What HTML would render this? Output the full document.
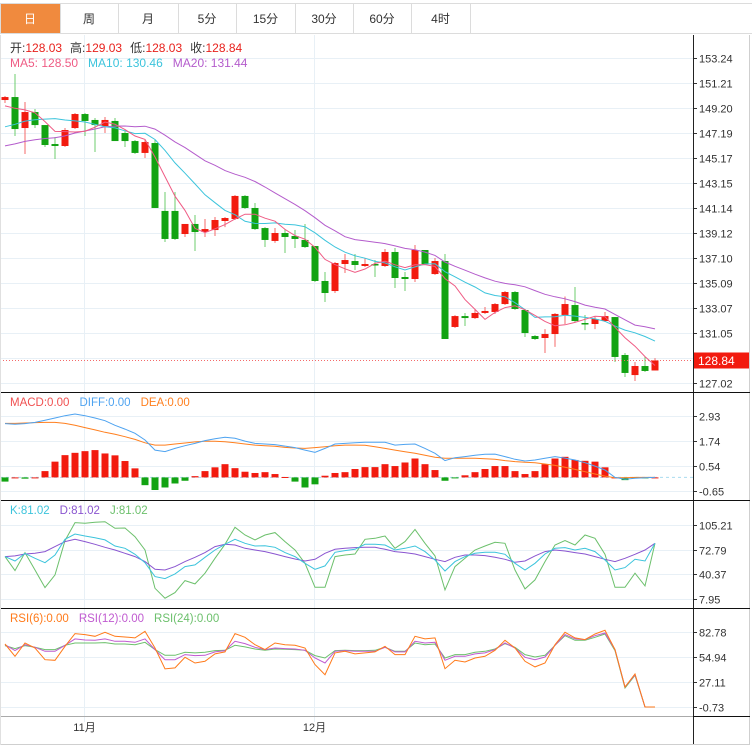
<!DOCTYPE html>
<html><head><meta charset="utf-8">
<style>
body{margin:0;background:#fff;width:755px;height:748px;overflow:hidden;font-family:"Liberation Sans","Noto Sans CJK SC",sans-serif;}
svg text{font-family:"Liberation Sans","Noto Sans CJK SC",sans-serif;}
</style></head>
<body>
<svg id="chart" width="755" height="748" viewBox="0 0 755 748" xmlns="http://www.w3.org/2000/svg">
<g id="tabs"></g>
<g id="grid"></g>
<g id="marks"></g>
<g id="frame"></g>
<g id="legend">
<text x="10" y="52" font-size="12"><tspan fill="#333">开:</tspan><tspan fill="#e8211c">128.03</tspan><tspan fill="#333" dx="8">高:</tspan><tspan fill="#e8211c">129.03</tspan><tspan fill="#333" dx="8">低:</tspan><tspan fill="#e8211c">128.03</tspan><tspan fill="#333" dx="8">收:</tspan><tspan fill="#e8211c">128.84</tspan></text>
<text x="10" y="67" font-size="12"><tspan fill="#ef5b84">MA5: 128.50</tspan><tspan fill="#3cc4dc" dx="10">MA10: 130.46</tspan><tspan fill="#b45ccc" dx="10">MA20: 131.44</tspan></text>
<text x="10" y="406" font-size="11.5"><tspan fill="#f05050">MACD:0.00</tspan><tspan fill="#4ea3f0" dx="10">DIFF:0.00</tspan><tspan fill="#ff7f1e" dx="10">DEA:0.00</tspan></text>
<text x="10" y="514" font-size="11.5"><tspan fill="#3cc4dc">K:81.02</tspan><tspan fill="#8a55d0" dx="10">D:81.02</tspan><tspan fill="#6cc06c" dx="10">J:81.02</tspan></text>
<text x="10" y="622" font-size="11.5"><tspan fill="#ff7a1a">RSI(6):0.00</tspan><tspan fill="#c05ad0" dx="10">RSI(12):0.00</tspan><tspan fill="#6cc06c" dx="10">RSI(24):0.00</tspan></text>
</g>
</svg>
<script>
const tabLabels=["日","周","月","5分","15分","30分","60分","4时"];
const priorCloses=[144.2,144.8,145.1,144.3,144.9,144.5,144.0,145.0,144.6,144.6,145.5,146.3,146.8,145.6,145.8,148.5,149.5,149.0,149.8];
const opens=[149.85,150.09,147.59,148.88,147.83,146.30,146.14,147.59,148.72,148.24,147.75,148.16,147.19,146.54,145.58,146.38,140.90,140.90,139.04,139.85,139.20,139.36,140.09,140.25,142.11,141.14,139.52,138.48,139.12,138.88,138.56,138.07,135.25,134.44,136.62,136.86,136.46,136.62,136.46,137.59,135.57,135.41,137.75,135.81,136.86,131.54,132.42,132.26,132.67,132.75,133.39,134.36,132.91,130.81,130.65,130.97,132.51,133.31,131.86,131.78,132.02,132.34,129.28,127.66,128.39,128.03];
const highs=[150.17,151.95,149.69,149.13,147.83,146.87,147.59,148.80,148.80,148.40,148.48,148.40,147.35,146.62,146.62,146.62,142.43,142.43,139.85,140.57,140.25,140.41,140.41,142.19,142.19,141.54,139.60,139.52,139.44,139.36,139.85,138.07,135.97,136.78,137.43,137.43,137.10,136.94,137.83,137.91,135.97,138.15,137.75,137.10,137.43,132.50,132.67,133.00,133.15,133.47,134.44,134.44,132.99,130.89,131.37,132.67,134.00,134.76,132.51,132.34,132.75,132.34,129.44,128.71,129.12,129.03];
const lows=[149.61,146.95,145.49,147.59,146.06,145.09,146.06,147.51,146.95,145.66,147.19,146.54,146.06,145.49,145.17,141.14,138.40,138.56,138.80,137.67,138.80,138.88,139.60,140.17,141.06,139.36,137.99,138.32,137.51,137.91,137.91,135.17,133.55,134.28,135.89,136.14,136.38,135.57,136.38,134.68,134.44,135.17,136.54,135.73,130.57,131.46,131.62,132.18,132.59,132.59,133.31,132.91,130.73,130.49,129.44,129.93,131.78,131.94,131.29,131.37,131.94,128.71,127.50,127.18,127.91,128.03];
const closes=[150.09,147.51,148.88,147.83,146.22,146.14,147.43,148.72,148.16,147.83,148.24,146.54,146.54,145.58,146.46,141.14,138.64,138.64,139.85,139.20,139.44,140.17,140.33,142.11,141.14,139.44,138.56,139.12,138.80,138.64,137.99,135.25,134.28,136.70,136.94,136.54,136.62,136.54,137.59,135.49,135.41,137.75,136.62,136.86,130.57,132.42,132.26,132.67,132.83,133.39,134.36,132.99,131.05,130.57,130.97,132.59,133.39,132.02,131.82,132.18,132.42,129.12,127.83,128.39,127.99,128.84];
const priceTicks=[153.24,151.21,149.20,147.19,145.17,143.15,141.14,139.12,137.10,135.09,133.07,131.05,129.04,127.02];
const macdHist=[-0.2,0,-0.06,0,0.3,0.75,1.06,1.17,1.25,1.3,1.14,1.05,0.78,0.43,-0.37,-0.6,-0.48,-0.29,-0.16,0.06,0.3,0.48,0.63,0.44,0.27,0.21,0.25,0.16,0.02,-0.2,-0.48,-0.33,0.08,0.21,0.25,0.4,0.49,0.49,0.63,0.54,0.71,0.9,0.63,0.35,-0.16,-0.02,0.1,0.25,0.4,0.54,0.54,0.3,0.16,0.3,0.63,0.9,0.98,0.83,0.79,0.75,0.48,0,-0.13,-0.02,-0.03,0];
const diff=[2.56,2.53,2.56,2.62,2.72,2.83,2.94,3.02,2.94,2.83,2.70,2.48,2.30,2.10,1.78,1.30,1.23,1.38,1.51,1.62,1.75,1.84,1.91,1.86,1.73,1.62,1.59,1.56,1.49,1.42,1.30,1.19,1.38,1.59,1.62,1.65,1.67,1.67,1.67,1.54,1.57,1.59,1.38,1.15,0.80,0.94,0.99,1.05,1.10,1.11,0.99,0.86,0.78,0.83,0.91,0.99,0.92,0.83,0.70,0.54,0.35,0.0,-0.09,-0.04,-0.02,0.0];
const dea=[2.57,2.57,2.59,2.61,2.62,2.62,2.57,2.48,2.37,2.26,2.15,2.05,1.94,1.81,1.65,1.54,1.54,1.59,1.64,1.69,1.72,1.72,1.70,1.65,1.59,1.54,1.51,1.48,1.43,1.40,1.38,1.42,1.46,1.51,1.54,1.54,1.53,1.46,1.38,1.30,1.22,1.15,1.05,0.96,0.91,0.91,0.91,0.91,0.89,0.86,0.80,0.75,0.72,0.70,0.64,0.57,0.48,0.38,0.27,0.16,0.06,-0.02,-0.02,0.0,0.0,0.0];
const macdTicks=[2.93,1.74,0.54,-0.65];
const kVals=[63.7,58,68,61.5,55.8,65.9,86.4,93.4,90.8,88.6,85.6,77.7,74.6,66.8,55.8,37.5,34.9,41,50.6,52.8,62.8,72.4,79.9,86.4,81.2,77.7,78.1,75.9,69,63.7,55,47.1,51.5,69.4,71.6,73.3,79.9,79.9,79,72.4,74.6,77.7,70.3,59.3,44.9,57.2,63.7,68.1,69.4,69.4,66.8,55,46.2,55,67.2,74.6,75.5,72.4,74.6,70.3,59.3,46.2,49.3,60.2,58,81.2];
const dVals=[63.7,64.6,67.2,68.1,70.3,76.8,83.4,86.4,83.4,79.9,75.9,72.4,68.1,63.7,57.2,47.1,46.2,50.6,57.2,62.8,69,76.8,79.9,79,74.6,72.4,70.3,67.2,63.7,60.6,58,60.2,68.1,73.3,74.6,75.5,75.9,75.9,73.3,70.3,69,67.2,63.7,60.2,57.2,62.8,65.9,65.9,65,62.8,60.2,56.3,58,64.6,70.3,72.4,71.1,69,67.2,63.7,60.2,57.2,61.5,66.8,72.4,81.2];
const jVals=[63.7,45.4,69,46.2,23.1,39.7,84.7,108.3,107.4,108.7,109.6,100.9,101.3,89.9,72.4,22.2,9.1,16.5,32.2,27.9,41.9,61.5,79.9,102.2,92.1,85.6,92.1,95.2,83.4,72.4,55,23.5,23.5,63.7,65.9,67.2,86.4,87.7,90.8,74.6,83.4,99.5,81.2,64.6,20,50.6,61.5,72.4,77.7,82.5,81.2,46.2,21.3,33.1,57.2,79,84.7,79,92.1,87.7,66.8,23.5,23.5,41.9,25.3,81.2];
const kdjTicks=[105.21,72.79,40.37,7.95];
const rsi6=[69.8,56,70.9,65.3,52.3,51.6,67.2,81.3,80.2,78.3,82.8,78.3,77.6,76.5,83.9,65.3,42,43.1,54.9,48.6,50.5,58.7,60.9,81.3,77.2,69,63.5,70.9,69,68.3,65.3,46.8,35.6,59.8,61.6,58.7,59.8,60.9,67.2,57.9,57.9,78.3,75.4,76.5,42.3,51.6,49.7,54.2,56,62.7,73.9,65.3,50.5,44.2,48.6,69,82.8,76.5,74.6,80.9,85,63.5,21.9,36.4,-0.4,-0.4];
const rsi12=[69,62.4,69,66.1,61.6,61.6,68.3,75.4,74.2,73.9,75.4,72.8,72.8,71.6,75.4,63.5,52.3,52.3,57.9,56.8,57.2,60.9,62.4,72.8,70.2,66.1,63.5,65.3,64.6,64.2,62.7,54.2,48.6,61.6,62.4,61.6,61.6,61.6,66.1,60.9,60.9,72.8,70.9,71.6,51.6,56,56,58.7,59.8,63.5,70.9,65.3,54.9,52.3,55.3,68.3,80.2,75.4,74.6,79,82,63.5,21.9,35.6,-0.4,-0.4];
const rsi24=[68,64.6,68,66.1,63.5,63.5,68.3,70.9,70.9,70.9,71.3,69.8,69.8,69,71.6,63.5,57.2,57.2,60.5,59.8,60.5,62.4,62.7,68.3,66.5,64.2,62.7,64.2,63.8,63.5,62.7,56.8,54.2,62.4,62.7,62.4,62.4,62.7,66.1,61.6,61.6,70.9,69,69.8,54.2,57.9,57.9,60.5,61.6,64.2,70.2,66.1,57.9,55.3,57.2,68.3,79,73.9,73.9,77.2,80.9,62.4,20.8,34.9,-0.4,-0.4];
const rsiTicks=[82.78,54.94,27.11,-0.73];
const dateLabels=["11月","12月"];
const dateIdx=[8,31];

const NS="http://www.w3.org/2000/svg";
function mk(parent,tag,attrs){const e=document.createElementNS(NS,tag);for(const k in attrs)e.setAttribute(k,attrs[k]);parent.appendChild(e);return e;}
const xAt=i=>5+10*i;
const yP=p=>58+(153.24-p)*12.395;
const yM=v=>477.4-v*21;
const yK=v=>525+(105.21-v)*0.762;
const yR=v=>632.3+(82.78-v)*0.898;
const RED="#f21b0f",GREEN="#12a312";

const tabs=document.getElementById('tabs');
const tw=[0,60,118,178,236,295,353,411,470];
tabLabels.forEach((t,i)=>{
  const g=mk(tabs,'g',{});
  
  
  const r=mk(g,'rect',{x:tw[i]+0.5,y:3.5,width:tw[i+1]-tw[i],height:30,fill:i===0?'#f08a3e':'#fff',stroke:'#dcdcdc'});
  const tx=mk(g,'text',{x:(tw[i]+tw[i+1])/2,y:23,'font-size':12,'text-anchor':'middle',fill:i===0?'#fff':'#333'});
  tx.textContent=t;
});
mk(tabs,'line',{x1:470,y1:3.5,x2:752,y2:3.5,stroke:'#dcdcdc'});
mk(tabs,'line',{x1:470,y1:33.5,x2:752,y2:33.5,stroke:'#dcdcdc'});

const grid=document.getElementById('grid');
function hgrid(ticks,yf,pane,skipLabel){
  ticks.forEach(v=>{
    const y=Math.round(yf(v))+0.5;
    mk(grid,'line',{x1:0,y1:y,x2:693,y2:y,stroke:'#e8f0f6'});
    mk(grid,'line',{x1:693,y1:y,x2:697,y2:y,stroke:'#333'});
    if(skipLabel&&skipLabel(v))return;
    const t=mk(grid,'text',{x:699,y:y+4,'font-size':11,fill:'#333'});
    
    
    t.textContent=v.toFixed(2);
  });
}
hgrid(priceTicks,yP,'price',v=>Math.abs(v-129.04)<0.01);
hgrid(macdTicks,yM,'macd');
hgrid(kdjTicks,yK,'kdj');
hgrid(rsiTicks,yR,'rsi');
dateIdx.forEach((d,i)=>{
  const x=Math.round(xAt(d)-0.7)-0.5+1;
  mk(grid,'line',{x1:x,y1:35,x2:x,y2:722,stroke:'#e8f0f6'});
  const t=mk(grid,'text',{x:x,y:731,'font-size':11,'text-anchor':'middle',fill:'#333'});
  
  
  t.textContent=dateLabels[i];
});

const marks=document.getElementById('marks');
// candles
closes.forEach((c,i)=>{
  const o=opens[i],up=c>=o,col=up?RED:GREEN,x=xAt(i);
  const g=mk(marks,'g',{});
  
  
  mk(g,'line',{x1:x,y1:yP(highs[i]),x2:x,y2:yP(lows[i]),stroke:up?'#f46a6a':'#6ccd6c','stroke-width':1});
  const top=yP(Math.max(o,c)),bot=yP(Math.min(o,c));
  mk(g,'rect',{x:x-3.5,y:top,width:7,height:Math.max(1.5,bot-top),fill:col});
});
// moving averages
const allC=priorCloses.concat(closes);
function ma(n){return closes.map((_,i)=>{const k=i+priorCloses.length;let s=0;for(let j=k-n+1;j<=k;j++)s+=allC[j];return s/n;});}
function poly(vals,yf,col,name){
  const p=mk(marks,'polyline',{points:vals.map((v,i)=>xAt(i)+','+yf(v).toFixed(1)).join(' '),fill:'none',stroke:col,'stroke-width':1});
  
  
}
poly(ma(20),yP,'#b45ccc','ma20-line');
poly(ma(10),yP,'#3cc4dc','ma10-line');
poly(ma(5),yP,'#ef5b84','ma5-line');
// current price
const lastY=Math.round(yP(closes[closes.length-1]))+0.5;
mk(marks,'line',{x1:0,y1:lastY,x2:693,y2:lastY,stroke:'#f46a6a','stroke-dasharray':'1,2'});
const tag=mk(marks,'rect',{x:693,y:lastY-8,width:57,height:16,fill:'#f21b0f'});


const tt=mk(marks,'text',{x:698,y:lastY+4.5,'font-size':12,fill:'#fff'});
tt.textContent=closes[closes.length-1].toFixed(2);
// MACD
const z=yM(0);
mk(marks,'line',{x1:0,y1:z,x2:693,y2:z,stroke:'#a9dcef','stroke-dasharray':'3,3'});
macdHist.forEach((v,i)=>{
  const y=yM(v);
  const b=mk(marks,'rect',{x:xAt(i)-3.5,y:Math.min(y,z),width:7,height:Math.max(1,Math.abs(y-z)),fill:v>=0?RED:GREEN});
  
  
});
poly(dea,yM,'#ff7f1e','dea-line');
poly(diff,yM,'#4ea3f0','diff-line');
// KDJ
poly(jVals,yK,'#6cc06c','j-line');
poly(dVals,yK,'#8a55d0','d-line');
poly(kVals,yK,'#3cc4dc','k-line');
// RSI
poly(rsi24,yR,'#6cc06c','rsi24-line');
poly(rsi12,yR,'#c05ad0','rsi12-line');
poly(rsi6,yR,'#ff7a1a','rsi6-line');

const frame=document.getElementById('frame');
mk(frame,'line',{x1:693.5,y1:35,x2:693.5,y2:745,stroke:'#222'});
mk(frame,'line',{x1:749.5,y1:35,x2:749.5,y2:745,stroke:'#cfcfcf'});
[392,500,608].forEach(y=>mk(frame,'line',{x1:0,y1:y+0.5,x2:750,y2:y+0.5,stroke:'#111'}));
mk(frame,'line',{x1:0,y1:716.5,x2:693,y2:716.5,stroke:'#aaa'});
mk(frame,'line',{x1:693,y1:716.5,x2:750,y2:716.5,stroke:'#111'});
mk(frame,'line',{x1:0,y1:744.5,x2:750,y2:744.5,stroke:'#cfcfcf'});
mk(frame,'line',{x1:0.5,y1:35,x2:0.5,y2:745,stroke:'#e0e0e0'});
</script>
</body></html>
